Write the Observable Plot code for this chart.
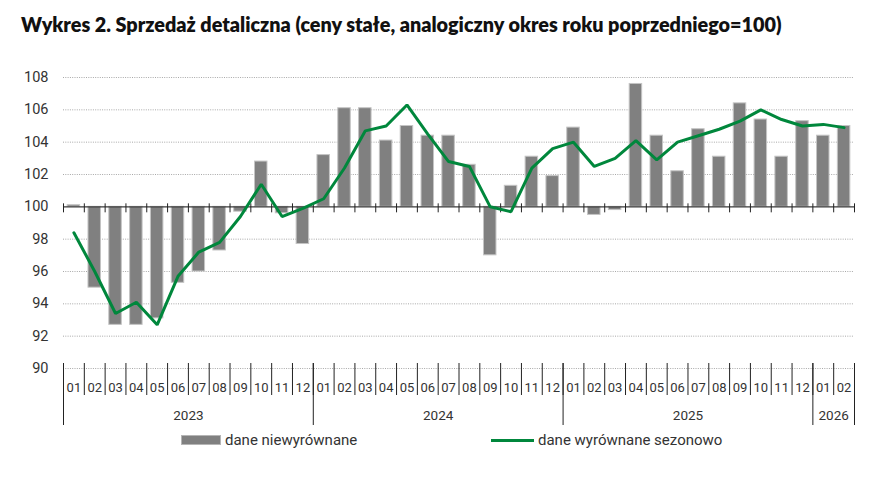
<!DOCTYPE html>
<html>
<head>
<meta charset="utf-8">
<script src="https://cdn.jsdelivr.net/npm/d3@7"></script>
<script src="https://cdn.jsdelivr.net/npm/@observablehq/plot@0.6"></script>
<style>
  html, body { margin: 0; padding: 0; background: #fff; }
  #wrap { position: relative; width: 884px; height: 492px; font-family: Roboto, "Noto Sans", sans-serif; }
  #title { position: absolute; left: 21px; top: 12px; font-family: Lato, sans-serif; font-weight: 800; font-size: 19.8px; color: #111; white-space: nowrap; line-height: 24px; }
  #chart { position: absolute; left: 0; top: 56px; }
  .leg { position: absolute; top: 430px; font-size: 15px; color: #333; line-height: 20px; white-space: nowrap; }
  .sw { position: absolute; }
</style>
</head>
<body>
<div id="wrap">
  <div id="title">Wykres 2. Sprzedaż detaliczna (ceny stałe, analogiczny okres roku poprzedniego=100)</div>
  <div id="chart"></div>
  <div class="sw" style="left:181px; top:435px; width:40px; height:10px; background:#808080; box-sizing:border-box; border:1px solid #b5b5b5;"></div>
  <div class="leg" style="left:225px;">dane niewyrównane</div>
  <div class="sw" style="left:491px; top:439px; width:43px; height:3px; background:#00873c;"></div>
  <div class="leg" style="left:538px;">dane wyrównane sezonowo</div>
</div>
<script>
const monthLabels = ["01","02","03","04","05","06","07","08","09","10","11","12",
                     "01","02","03","04","05","06","07","08","09","10","11","12",
                     "01","02","03","04","05","06","07","08","09","10","11","12",
                     "01","02"];
const years = ["2023","2024","2025","2026"];
const yearMonths = [12, 12, 12, 2];
const niewyrownane = [100.1, 95.0, 92.7, 92.7, 93.1, 95.3, 96.0, 97.3, 99.7, 102.8, 99.6, 97.7,
                      103.2, 106.1, 106.1, 104.1, 105.0, 104.4, 104.4, 102.6, 97.0, 101.3, 103.1, 101.9,
                      104.9, 99.5, 99.8, 107.6, 104.4, 102.2, 104.8, 103.1, 106.4, 105.4, 103.1, 105.3,
                      104.4, 105.0];
const sezonowo = [98.4, 96.0, 93.4, 94.1, 92.7, 95.7, 97.2, 97.8, 99.4, 101.4, 99.4, 99.9,
                  100.5, 102.4, 104.7, 105.0, 106.3, 104.5, 102.8, 102.5, 100.0, 99.7, 102.4, 103.6,
                  104.0, 102.5, 103.0, 104.1, 102.9, 104.0, 104.4, 104.8, 105.3, 106.0, 105.4, 105.0,
                  105.1, 104.9];
const yTicks = [90, 92, 94, 96, 98, 100, 102, 104, 106, 108];

const W = 884, H = 372, mT = 21, mB = 60, mL = 63, mR = 30;
const yMin = 90, yMax = 108;
const ppu = (H - mT - mB) / (yMax - yMin); // pixels per unit
const px = (p) => p / ppu;

const rows = niewyrownane.map((v, i) => ({i, nsa: v, sa: sezonowo[i], m: monthLabels[i]}));
const n = rows.length;
const bounds = d3.range(n + 1);
let acc = 0;
const yearRows = years.map((y, k) => { const r = {year: y, start: acc, end: acc + yearMonths[k]}; acc += yearMonths[k]; return r; });
const yearBounds = [0, ...yearRows.map(r => r.end)];

const txt = {fontFamily: "Roboto, sans-serif", fill: "#333"};

const plot = Plot.plot({
  width: W, height: H,
  marginTop: mT, marginBottom: mB, marginLeft: mL, marginRight: mR,
  x: {domain: [0, n], axis: null},
  y: {domain: [yMin, yMax], axis: null},
  style: {overflow: "visible", fontFamily: "Roboto, sans-serif"},
  marks: [
    Plot.ruleY(yTicks.filter(t => t !== 100), {stroke: "#a8a8a8", strokeWidth: 1, strokeDasharray: "1,1.3"}),
    Plot.rectY(rows, {x1: d => d.i + 0.2, x2: d => d.i + 0.8, y1: 100, y2: "nsa", fill: "#808080", stroke: "#c4c4c4", strokeWidth: 1}),
    Plot.ruleY([100], {stroke: "#3a3a3a", strokeWidth: 1.3}),
    Plot.ruleX(bounds, {x: d => d, y1: 100 + px(3), y2: 100 - px(6), stroke: "#222", strokeWidth: 1}),
    Plot.line(rows, {x: d => d.i + 0.5, y: "sa", stroke: "#00873c", strokeWidth: 3, strokeLinejoin: "miter"}),
    Plot.text(yTicks, {x: 0, y: d => d, text: d => String(d), textAnchor: "end", dx: -15, fontSize: 14.5, ...txt}),
    Plot.ruleX(bounds, {x: d => d, y1: yMin + px(5), y2: yMin - px(27), stroke: "#222", strokeWidth: 1}),
    Plot.ruleX(yearBounds, {x: d => d, y1: yMin + px(5), y2: yMin - px(57), stroke: "#222", strokeWidth: 1}),
    Plot.text(rows, {x: d => d.i + 0.5, y: yMin, text: "m", dy: 19, fontSize: 13, ...txt}),
    Plot.text(yearRows, {x: d => (d.start + d.end) / 2, y: yMin, text: "year", dy: 47, fontSize: 13.5, ...txt})
  ]
});
document.getElementById("chart").appendChild(plot);
</script>
</body>
</html>
